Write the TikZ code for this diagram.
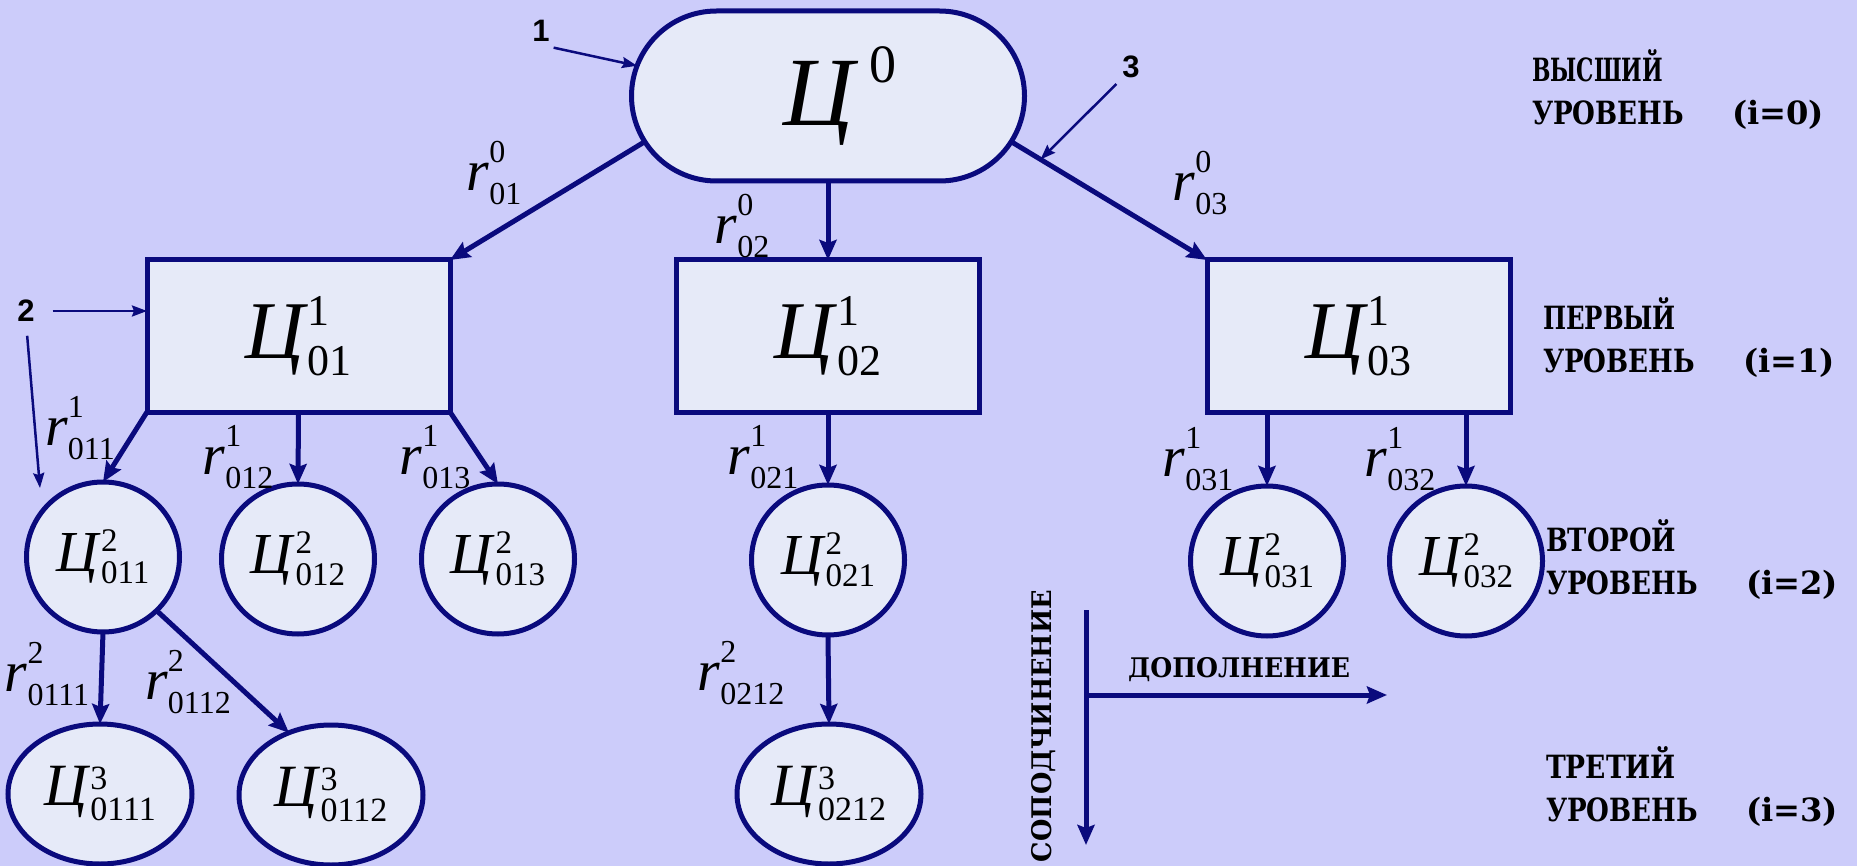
\documentclass[tikz,border=0pt]{standalone}
\usepackage{fontspec}
\usepackage{graphicx}
\setmainfont{Liberation Serif}
\newfontfamily\lblfont{DejaVu Serif}
\newfontfamily\numfont{Liberation Sans}
\usetikzlibrary{shapes.geometric,shapes.misc,arrows.meta,calc}
\definecolor{bgc}{RGB}{204,204,250}
\definecolor{fillc}{RGB}{230,234,248}
\definecolor{navy}{RGB}{10,10,125}
\newcommand\SSym[7]{%
  {\fontsize{#1pt}{#1pt}\selectfont\itshape #3\/}%
  {\fontsize{#2pt}{#2pt}\selectfont\rlap{\raisebox{#6pt}{#4}}\raisebox{-#7pt}{#5}}}
\newcommand\Zbox[2]{\SSym{82}{44}{Ц}{#1}{#2}{33}{17}}
\newcommand\Zcirc[2]{\SSym{58}{33}{Ц}{#1}{#2}{20}{12}}
\newcommand\Zell[2]{\SSym{60}{34}{Ц}{#1}{#2}{16}{15}}
\newcommand\Rlab[2]{\SSym{58}{32}{r}{#1}{#2}{28}{14}}
\newcommand\fitw[2]{\resizebox{#1}{\height}{#2}}
\newcommand\lvline[1]{\fitw{152pt}{УРОВЕНЬ}\hspace{48pt}\fitw{92pt}{(i=#1)}}
\begin{document}
\begin{tikzpicture}[x=1pt,y=-1pt,
  every node/.style={inner sep=0pt,outer sep=0pt},
  thickline/.style={draw=navy,line width=5pt,-{Stealth[length=20pt,width=17pt,inset=3pt]}},
  thinline/.style={draw=navy,line width=2.5pt,-{Stealth[length=15pt,width=11pt,inset=2pt]}},
  stad/.style={rounded rectangle,draw=navy,fill=fillc,line width=5pt,minimum width=393pt,minimum height=170pt},
  boxn/.style={rectangle,draw=navy,fill=fillc,line width=5pt,minimum width=303pt,minimum height=152pt},
  circn/.style={ellipse,draw=navy,fill=fillc,line width=5pt,minimum width=153pt,minimum height=150pt},
  ellb/.style={ellipse,draw=navy,fill=fillc,line width=5pt,minimum width=184pt,minimum height=140pt},
  lvl/.style={font=\fontsize{32pt}{43pt}\selectfont\lblfont\bfseries,align=left,anchor=west},
  leg/.style={font=\fontsize{27pt}{30pt}\selectfont\lblfont\bfseries},
  numl/.style={font=\fontsize{31pt}{34pt}\selectfont\numfont\bfseries}]
\useasboundingbox (0,0) rectangle (1857,866);
\fill[bgc] (0,0) rectangle (1857,866);

% nodes
\node[stad] (c0) at (828,96) {\hspace*{24pt}{\fontsize{98pt}{98pt}\selectfont\itshape Ц\/}\kern10pt{\fontsize{54pt}{54pt}\selectfont\raisebox{43pt}{0}}};
\node[boxn] (b01) at (298.5,336) {\Zbox{1}{01}};
\node[boxn] (b02) at (828,336) {\Zbox{1}{02}};
\node[boxn] (b03) at (1358.5,336) {\Zbox{1}{03}};
\node[circn] (c011) at (103,557) {\Zcirc{2}{011}};
\node[circn] (c012) at (298,559) {\Zcirc{2}{012}};
\node[circn] (c013) at (498,559) {\Zcirc{2}{013}};
\node[circn] (c021) at (828,560) {\Zcirc{2}{021}};
\node[circn] (c031) at (1267,561) {\Zcirc{2}{031}};
\node[circn] (c032) at (1466,561) {\Zcirc{2}{032}};
\node[ellb] (c0111) at (100,794) {\Zell{3}{0111}};
\node[ellb] (c0112) at (331,795) {\Zell{3}{0112}};
\node[ellb] (c0212) at (829,794) {\Zell{3}{0212}};

% connectors
\draw[thickline] (c0.194) -- (b01.north east);
\draw[thickline] (c0.south) -- (b02.north);
\draw[thickline] (c0.-14) -- coordinate[pos=0.15] (p3) (b03.north west);
\draw[thickline] (b01.south west) -- (c011.north);
\draw[thickline] (b01.south) -- (c012.north);
\draw[thickline] (b01.south east) -- (c013.north);
\draw[thickline] (b02.south) -- (c021.north);
\draw[thickline] (c031.north |- b03.south) -- (c031.north);
\draw[thickline] (c032.north |- b03.south) -- (c032.north);
\draw[thickline] (c011.south) -- (c0111.north);
\draw[thickline] (c011.-45) -- (c0112.124);
\draw[thickline] (c021.south) -- (c0212.north);

% edge labels
\node (l001) at (494,173) {\Rlab{0}{01}};
\node (l002) at (742,226) {\Rlab{0}{02}};
\node (l003) at (1200,183) {\Rlab{0}{03}};
\node (l011) at (80,428) {\Rlab{1}{011}};
\node (l012) at (238,457) {\Rlab{1}{012}};
\node (l013) at (435,457) {\Rlab{1}{013}};
\node (l021) at (763,457) {\Rlab{1}{021}};
\node (l031) at (1198,459) {\Rlab{1}{031}};
\node (l032) at (1400,459) {\Rlab{1}{032}};
\node (l0111) at (47,674) {\Rlab{2}{0111}};
\node (l0112) at (188,682) {\Rlab{2}{0112}};
\node (l0212) at (741,673) {\Rlab{2}{0212}};

% annotation numbers
\node[numl] (n1) at (541,31) {1};
\node[numl] (n2) at (26,311) {2};
\node[numl] (n3) at (1131,67) {3};
\coordinate (t2) at (40,488);
\draw[thinline] (n1.south east) ++(4,6) -- (c0.171);
\draw[thinline] (n3.south west) ++(-6,6) -- (p3);
\draw[thinline] ([xshift=18pt]n2.east) -- (n2.east -| b01.west);
\draw[thinline,shorten <=14pt] (n2.south) -- (t2);

% level labels
\node[lvl] (lv0) at (1532,90) {\fitw{131pt}{ВЫСШИЙ}\\\lvline{0}};
\node[lvl] (lv1) at (1543,338) {\fitw{133pt}{ПЕРВЫЙ}\\\lvline{1}};
\node[lvl] (lv2) at (1546,560) {\fitw{130pt}{ВТОРОЙ}\\\lvline{2}};
\node[lvl] (lv3) at (1546,787) {\fitw{130pt}{ТРЕТИЙ}\\\lvline{3}};

% legend
\coordinate (lg) at (1086,695);
\coordinate (lgt) at (1086,610);
\coordinate (lgb) at (1086,845);
\coordinate (lgr) at (1387,695);
\draw[thickline] (lgt) -- (lgb);
\draw[thickline] (lg) -- (lgr);
\node[leg] (dop) at (1239,670) {\fitw{222pt}{ДОПОЛНЕНИЕ}};
\node[leg,rotate=90] (sop) at (1044,726) {\fitw{272pt}{СОПОДЧИНЕНИЕ}};
\end{tikzpicture}
\end{document}
